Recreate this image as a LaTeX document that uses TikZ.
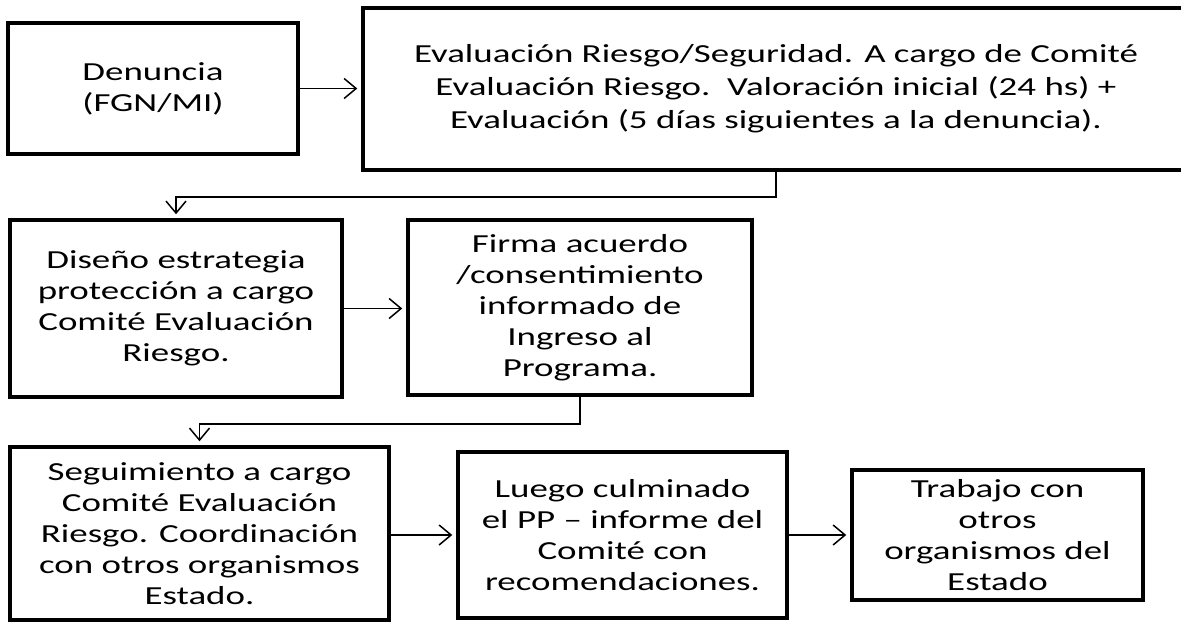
\documentclass[tikz,border=0pt]{standalone}
\usepackage{fontspec}
\setmainfont{Carlito}[FakeStretch=1.42]
\usetikzlibrary{arrows.meta}
\tikzset{
  box/.style={draw=black, line width=3.5pt, inner sep=0pt, align=center,
    font=\fontsize{26}{31}\selectfont},
  arr/.style={line width=1.5pt, shorten >=4pt, -{Straight Barb[length=12pt,width=20pt]}}
}
\begin{document}
\begin{tikzpicture}[x=1pt,y=-1pt]
\useasboundingbox[fill=white] (0,0) rectangle (1181,623);
\node[box, minimum width=290pt, minimum height=131pt] (den) at (153,88.5) {Denuncia\\(FGN/MI)};
\node[box, minimum width=826pt, minimum height=162pt, font=\fontsize{26}{33}\selectfont] (eval) at (776,89)
  {Evaluación Riesgo/Seguridad. A cargo de Comité\\Evaluación Riesgo.\ \ Valoración inicial (24 hs) +\\Evaluación (5 días siguientes a la denuncia).};
\node[box, minimum width=332pt, minimum height=177pt] (dis) at (176,308.5)
  {Diseño estrategia\\protección a cargo\\Comité Evaluación\\Riesgo.};
\node[box, minimum width=344pt, minimum height=175pt] (fir) at (580,307.5)
  {Firma acuerdo\\/consentimiento\\informado de\\Ingreso al\\Programa.};
\node[box, minimum width=379pt, minimum height=173pt] (seg) at (199.5,533.5)
  {Seguimiento a cargo\\Comité Evaluación\\Riesgo. Coordinación\\con otros organismos\\Estado.};
\node[box, minimum width=329pt, minimum height=166pt] (lue) at (622.5,535)
  {Luego culminado\\el PP – informe del\\Comité con\\recomendaciones.};
\node[box, minimum width=291pt, minimum height=130pt] (tra) at (997.5,535)
  {Trabajo con\\otros\\organismos del\\Estado};
\draw[arr] (den.east) -- (den.east -| eval.west);
\draw[arr] (eval.south) -- ++(0,25) -| (dis.north);
\draw[arr] (dis.east) -- (dis.east -| fir.west);
\draw[arr] (fir.south) -- ++(0,27) -| (seg.north);
\draw[arr] (seg.east |- lue.west) -- (lue.west);
\draw[arr] (lue.east) -- (lue.east -| tra.west);
\end{tikzpicture}
\end{document}
